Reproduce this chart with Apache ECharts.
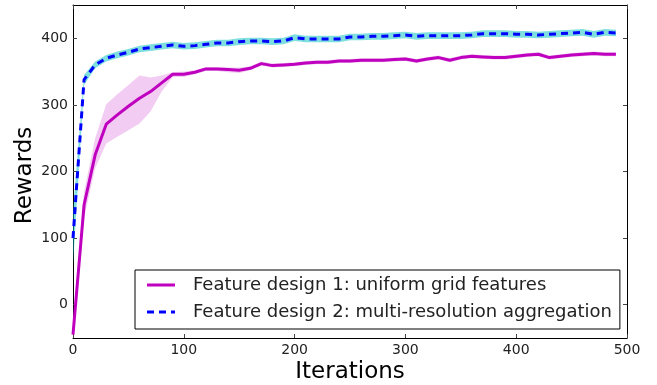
<!DOCTYPE html>
<html>
<head>
<meta charset="utf-8">
<script src="https://cdn.jsdelivr.net/npm/echarts@6/dist/echarts.min.js"></script>
<style>
html,body{margin:0;padding:0;background:#fff;}
#chart{width:657px;height:385px;}
</style>
</head>
<body>
<div id="chart"></div>
<script>
var iterations = [0,10,20,30,40,50,60,70,80,90,100,110,120,130,140,150,160,170,180,190,200,210,220,230,240,250,260,270,280,290,300,310,320,330,340,350,360,370,380,390,400,410,420,430,440,450,460,470,480,490];

var uniformMean = [-45,150,225,271,285,298,310,320,333,346,346,349,354,354,353,352,355,362,359,360,361,363,364,364,366,366,367,367,367,368,369,366,369,371,367,371,373,372,371,371,373,375,376,371,373,375,376,377,376,376];
var uniformHigh = [-30,170,250,301,316,330,344,341,344,349,350,352,357,357,356,356,358,365,362,363,364,366,367,367,369,369,370,370,370,371,372,369,372,374,370,374,376,375,374,374,376,378,379,374,376,378,379,380,379,379];
var uniformLow  = [-50,130,205,242,252,262,272,290,320,342,342,346,351,351,349,348,352,359,356,357,358,360,361,361,363,363,364,364,364,365,366,363,366,368,364,368,370,369,368,368,370,372,373,368,370,372,373,374,373,373];

var multiMean = [100,338,360,370,375,379,384,386,388,390,388,389,391,393,393,395,396,396,395,396,401,399,399,399,399,402,402,403,403,404,405,403,404,404,404,404,405,407,407,407,406,406,405,406,407,408,409,406,409,408];
var multiHigh = [140,345,365,375,380,384,389,391,393,395,393,394,396,398,398,400,401,401,400,401,406,404,404,404,404,407,407,408,408,409,410,408,409,409,409,409,410,412,412,412,411,411,410,411,412,413,414,411,414,413];
var multiLow  = [60,330,355,365,370,374,379,381,383,385,383,384,386,388,388,390,391,391,390,391,396,394,394,394,394,397,397,398,398,399,400,398,399,399,399,399,400,402,402,402,401,401,400,401,402,403,404,401,404,403];

var xTicks = [0,100,200,300,400,500];
var yTicks = [0,100,200,300,400];

var name1 = 'Feature design 1: uniform grid features';
var name2 = 'Feature design 2: multi-resolution aggregation';

function pairs(xs, ys){ return xs.map(function(x,i){return [x, ys[i]];}); }

function bandSeries(hi, lo, color, z){
  return {
    type:'custom', silent:true, z:z, clip:true,
    data:iterations.map(function(x,i){return [x, lo[i], hi[i]];}),
    encode:{x:0, y:[1,2]},
    renderItem:function(params, api){
      if (params.dataIndex !== 0) return null;
      var pts = [];
      for (var i = 0; i < iterations.length; i++) pts.push(api.coord([iterations[i], hi[i]]));
      for (var j = iterations.length - 1; j >= 0; j--) pts.push(api.coord([iterations[j], lo[j]]));
      return {type:'polygon', shape:{points:pts}, style:{fill:color, stroke:null}};
    }
  };
}

var FONT = 'DejaVu Sans';
var chart = echarts.init(document.getElementById('chart'), null, {renderer:'canvas'});

var axisLine = {show:true, onZero:false, lineStyle:{color:'#000', width:1}};

chart.setOption({
  animation:false,
  backgroundColor:'#fff',
  grid:{left:73, right:30, top:5, bottom:47, containLabel:false, outerBoundsMode:'none'},
  xAxis:[
    {
      type:'value', min:0, max:500, interval:100, position:'bottom',
      axisLine:axisLine, splitLine:{show:false},
      name:'Iterations', nameLocation:'middle', nameGap:23, nameMoveOverlap:false,
      nameTextStyle:{fontFamily:FONT, fontSize:23, color:'#000', verticalAlign:'top'},
      axisLabel:{fontFamily:FONT, fontSize:14, color:'#222', margin:5, customValues:xTicks},
      axisTick:{show:true, inside:true, length:4, lineStyle:{color:'#444'}, customValues:xTicks}
    },
    {
      type:'value', min:0, max:500, interval:100, position:'top',
      axisLine:axisLine, splitLine:{show:false},
      axisLabel:{show:false},
      axisTick:{show:true, inside:true, length:4, lineStyle:{color:'#444'}, customValues:xTicks}
    }
  ],
  yAxis:[
    {
      type:'value', min:-50, max:450, position:'left',
      axisLine:axisLine, splitLine:{show:false},
      name:'Rewards', nameLocation:'middle', nameGap:36, nameRotate:90, nameMoveOverlap:false,
      nameTextStyle:{fontFamily:FONT, fontSize:23, color:'#000', padding:[0,8,0,0]},
      axisLabel:{fontFamily:FONT, fontSize:14, color:'#222', margin:5, customValues:yTicks},
      axisTick:{show:true, inside:true, length:4, lineStyle:{color:'#444'}, customValues:yTicks}
    },
    {
      type:'value', min:-50, max:450, position:'right',
      axisLine:axisLine, splitLine:{show:false},
      axisLabel:{show:false},
      axisTick:{show:true, inside:true, length:4, lineStyle:{color:'#444'}, customValues:yTicks}
    }
  ],
  legend:{
    data:[
      {name:name1, icon:'path://M0,0H28V3H0Z', itemStyle:{color:'#bf00bf'}},
      {name:name2, icon:'path://M0,0H7V3H0Z M12,0H19V3H12Z M24,0H28V3H24Z', itemStyle:{color:'#0000ff'}}
    ],
    orient:'vertical',
    left:135, top:270,
    backgroundColor:'#fff',
    borderColor:'#000', borderWidth:1, borderRadius:0,
    padding:[6, 8, 8, 12],
    itemWidth:28, itemHeight:14, itemGap:9,
    textStyle:{fontFamily:FONT, fontSize:18, lineHeight:18, color:'#222', padding:[0,0,0,13]},
    z:10
  },
  series:[
    bandSeries(uniformHigh, uniformLow, 'rgba(191,0,191,0.2)', 1),
    {type:'line', name:name1, data:pairs(iterations, uniformMean), symbol:'none',
     lineStyle:{color:'#bf00bf', width:3}, itemStyle:{color:'#bf00bf'}, z:3},
    bandSeries(multiHigh, multiLow, 'rgba(0,191,191,0.5)', 4),
    {type:'line', name:name2, data:pairs(iterations, multiMean), symbol:'none',
     lineStyle:{color:'#0000ff', width:3, type:[7,5]}, itemStyle:{color:'#0000ff'}, z:5}
  ]
});
</script>
</body>
</html>
